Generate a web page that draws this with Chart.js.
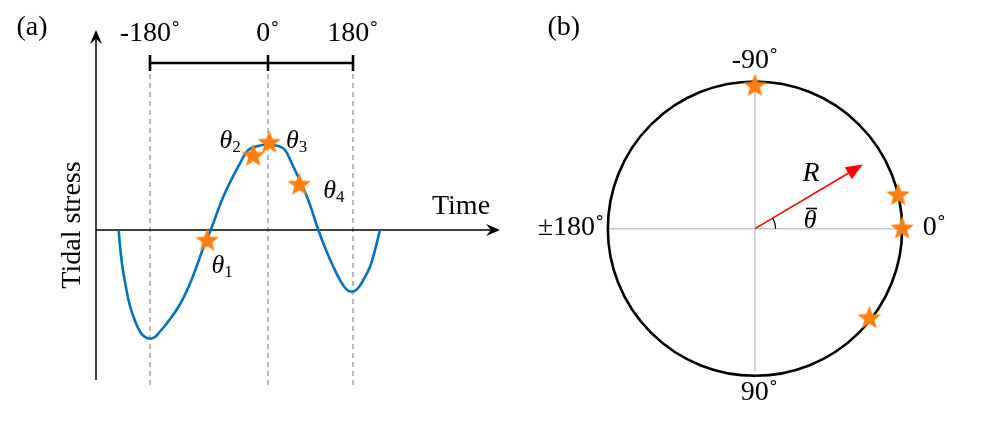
<!DOCTYPE html>
<html>
<head>
<meta charset="utf-8">
<script src="https://cdn.jsdelivr.net/npm/chart.js@4.4.1/dist/chart.umd.min.js"></script>
<style>
  html,body{margin:0;padding:0;background:#fff;}
  #wrapA{position:absolute;left:0;top:0;width:520px;height:427px;}
  #wrapB{position:absolute;left:520px;top:0;width:484px;height:427px;}
</style>
</head>
<body>
<div id="wrapA"><canvas id="chartA" width="520" height="427"></canvas></div>
<div id="wrapB"><canvas id="chartB" width="484" height="427"></canvas></div>
<script>
// ---- Panel (a) data: tidal stress over time (arbitrary units) ----
const curveTime   = [0.568,0.60,0.658,0.743,0.85,0.993,1.118,1.23,1.35,1.47,1.575,1.783,2.075,2.325,2.518,2.70,2.868,
                     3.183,3.60,3.808,4.05,4.30,4.55,4.725,4.893,5.275,5.558,
                     5.75,5.933,6.10,6.268,6.393,6.518,6.683,6.85,6.975,7.10];
const curveStress = [0,-0.16,-0.36,-0.56,-0.76,-0.927,-1.027,-1.071,-1.087,-1.071,-1.027,-0.927,-0.76,-0.56,-0.36,-0.16,0,
                     0.333,0.667,0.80,0.84,0.855,0.84,0.80,0.667,0.333,0,
                     -0.20,-0.367,-0.50,-0.596,-0.617,-0.596,-0.50,-0.367,-0.20,0];

const eventTime   = [2.78, 3.93, 4.33, 5.08];     // theta1..theta4
const eventStress = [-0.11, 0.74, 0.87, 0.45];
const eventNames  = ["1", "2", "3", "4"];

const phaseTickTime = [1.35, 4.30, 6.425];
const phaseTickText = ["-180˚", "0˚", "180˚"];

// ---- Panel (b) data: phases on the unit circle ----
const circlePhase = [-90, -13.5, 0, 39];   // degrees, positive = downward
const meanPhase   = -31.5;
const meanLength  = 0.86;
const compassText = ["-90˚", "0˚", "90˚", "±180˚"];

// ---- Styles / layout ----
const BLUE = "#0072BD", ORANGE = "#FF7F0E", GREY = "#8c8c8c";
const SERIF = '"Liberation Serif","Times New Roman",serif';
const F_TXT = "28px " + SERIF;

// label anchors (data units of each panel)
const spotsA = {
  panel:{x:-1.6, y:2.02},
  phaseY:1.96,
  time:{x:9.125, y:0.23},
  ylabel:{x:-0.575, y:0.05},
  theta:[{x:2.89,y:-0.43},{x:3.09,y:0.825},{x:4.75,y:0.825},{x:5.68,y:0.32}]
};
const spotsB = {
  panel:{x:-1.30, y:-1.41},
  compass:[{x:0,y:-1.18},{x:1.22,y:-0.01},{x:0.03,y:1.15},{x:-1.25,y:-0.01}],
  R:{x:0.381, y:-0.388},
  thetaBar:{x:0.374, y:-0.05}
};

// ---- Utils ----
function makeStar(R, color){
  const c = document.createElement("canvas");
  const s = Math.ceil(R*2+2); c.width = s; c.height = s;
  const g = c.getContext("2d");
  const r = R*0.42;
  g.beginPath();
  for(let i=0;i<10;i++){
    const a = -Math.PI/2 + i*Math.PI/5;
    const rr = i%2 ? r : R;
    const px = s/2 + rr*Math.cos(a), py = s/2 + rr*Math.sin(a);
    i ? g.lineTo(px,py) : g.moveTo(px,py);
  }
  g.closePath(); g.fillStyle = color; g.fill();
  return c;
}
const starImg = makeStar(12.5, ORANGE);

function stealth(ctx, x, y, ang, len, half){
  const dx = Math.cos(ang), dy = Math.sin(ang);
  ctx.beginPath();
  ctx.moveTo(x, y);
  ctx.lineTo(x - len*dx - half*dy, y - len*dy + half*dx);
  ctx.lineTo(x - 0.65*len*dx, y - 0.65*len*dy);
  ctx.lineTo(x - len*dx + half*dy, y - len*dy - half*dx);
  ctx.closePath(); ctx.fill();
}
function text(ctx, str, x, y, font, align, base){
  ctx.font = font; ctx.textAlign = align || "center"; ctx.textBaseline = base || "middle";
  ctx.fillText(str, x, y);
}
function subTheta(ctx, sub, x, y){
  ctx.font = "italic 26px " + SERIF; ctx.textAlign = "left"; ctx.textBaseline = "alphabetic";
  ctx.fillText("θ", x, y);
  const w = ctx.measureText("θ").width;
  ctx.font = "17px " + SERIF;
  ctx.fillText(sub, x + w, y + 4);
}

// ---- Panel (a) plugin ----
const panelA = {
  id:"panelA",
  beforeDatasetsDraw(chart){
    const {ctx, scales:{x, y}} = chart;
    ctx.save();
    ctx.strokeStyle = GREY; ctx.lineWidth = 1.2; ctx.setLineDash([5,4]);
    for(const t of phaseTickTime){
      ctx.beginPath();
      ctx.moveTo(x.getPixelForValue(t), y.getPixelForValue(1.65));
      ctx.lineTo(x.getPixelForValue(t), y.getPixelForValue(-1.58));
      ctx.stroke();
    }
    ctx.setLineDash([]);
    // axes
    ctx.strokeStyle = "#000"; ctx.fillStyle = "#000"; ctx.lineWidth = 1.5;
    const x0 = x.getPixelForValue(0), y0 = y.getPixelForValue(0);
    const yTop = y.getPixelForValue(2.0), yBot = y.getPixelForValue(-1.5), xEnd = x.getPixelForValue(10.1);
    ctx.beginPath(); ctx.moveTo(x0, yBot); ctx.lineTo(x0, yTop + 6); ctx.stroke();
    stealth(ctx, x0, yTop, -Math.PI/2, 14, 6);
    ctx.beginPath(); ctx.moveTo(x0, y0); ctx.lineTo(xEnd - 6, y0); ctx.stroke();
    stealth(ctx, xEnd, y0, 0, 14, 6);
    // phase bracket
    ctx.lineWidth = 2.6;
    const yb = y.getPixelForValue(1.67);
    ctx.beginPath();
    ctx.moveTo(x.getPixelForValue(phaseTickTime[0]), yb);
    ctx.lineTo(x.getPixelForValue(phaseTickTime[phaseTickTime.length-1]), yb);
    ctx.stroke();
    for(const t of phaseTickTime){
      ctx.beginPath();
      ctx.moveTo(x.getPixelForValue(t), y.getPixelForValue(1.75));
      ctx.lineTo(x.getPixelForValue(t), y.getPixelForValue(1.59));
      ctx.stroke();
    }
    ctx.restore();
  },
  afterDatasetsDraw(chart){
    const {ctx, scales:{x, y}} = chart;
    ctx.save();
    ctx.fillStyle = "#000";
    text(ctx, "(a)", x.getPixelForValue(spotsA.panel.x), y.getPixelForValue(spotsA.panel.y), F_TXT);
    phaseTickTime.forEach((t,i)=> text(ctx, phaseTickText[i], x.getPixelForValue(t), y.getPixelForValue(spotsA.phaseY), F_TXT));
    text(ctx, "Time", x.getPixelForValue(spotsA.time.x), y.getPixelForValue(spotsA.time.y), F_TXT);
    ctx.save();
    ctx.translate(x.getPixelForValue(spotsA.ylabel.x), y.getPixelForValue(spotsA.ylabel.y));
    ctx.rotate(-Math.PI/2);
    text(ctx, "Tidal stress", 0, 0, F_TXT);
    ctx.restore();
    spotsA.theta.forEach((p,i)=> subTheta(ctx, eventNames[i], x.getPixelForValue(p.x), y.getPixelForValue(p.y)));
    ctx.restore();
  }
};

new Chart(document.getElementById("chartA"), {
  type:"scatter",
  data:{datasets:[
    {type:"scatter", data: eventTime.map((t,i)=>({x:t, y:eventStress[i]})),
     pointStyle: starImg, pointRadius: 12, order: 0, clip: false},
    {type:"line", data: curveTime.map((t,i)=>({x:t, y:curveStress[i]})),
     borderColor: BLUE, borderWidth: 2.6, pointRadius: 0, fill: false,
     tension: 0.4, order: 1, clip: false}
  ]},
  options:{
    responsive:false, animation:false, events:[],
    layout:{padding:{left:96, right:20, top:30, bottom:37}},
    plugins:{legend:{display:false}, tooltip:{enabled:false}},
    scales:{
      x:{type:"linear", min:0, max:10.1, display:false},
      y:{type:"linear", min:-1.6, max:2.0, display:false}
    }
  },
  plugins:[panelA]
});

// ---- Panel (b) plugin ----
const panelB = {
  id:"panelB",
  beforeDatasetsDraw(chart){
    const {ctx, scales:{x, y}} = chart;
    ctx.save();
    const cx = x.getPixelForValue(0), cy = y.getPixelForValue(0);
    const r = x.getPixelForValue(1) - cx;
    ctx.strokeStyle = "#c8c8c8"; ctx.lineWidth = 1.5;
    ctx.beginPath();
    ctx.moveTo(x.getPixelForValue(-1), cy); ctx.lineTo(x.getPixelForValue(1), cy);
    ctx.moveTo(cx, y.getPixelForValue(-1)); ctx.lineTo(cx, y.getPixelForValue(1));
    ctx.stroke();
    ctx.strokeStyle = "#000"; ctx.lineWidth = 2.6;
    ctx.beginPath(); ctx.arc(cx, cy, r, 0, Math.PI*2); ctx.stroke();
    // mean vector
    const a = meanPhase*Math.PI/180;
    const tx = x.getPixelForValue(meanLength*Math.cos(a)), ty = y.getPixelForValue(meanLength*Math.sin(a));
    const ang = Math.atan2(ty-cy, tx-cx), len = 17;
    ctx.strokeStyle = "#ff0000"; ctx.fillStyle = "#ff0000"; ctx.lineWidth = 1.6;
    ctx.beginPath(); ctx.moveTo(cx, cy); ctx.lineTo(tx - len*Math.cos(ang), ty - len*Math.sin(ang)); ctx.stroke();
    ctx.beginPath();
    ctx.moveTo(tx, ty);
    ctx.lineTo(tx - len*Math.cos(ang) + 7*Math.sin(ang), ty - len*Math.sin(ang) - 7*Math.cos(ang));
    ctx.lineTo(tx - len*Math.cos(ang) - 7*Math.sin(ang), ty - len*Math.sin(ang) + 7*Math.cos(ang));
    ctx.closePath(); ctx.fill();
    // angle arc
    ctx.strokeStyle = "#000"; ctx.lineWidth = 1.2;
    ctx.beginPath(); ctx.arc(cx, cy, x.getPixelForValue(0.14) - cx, a, 0); ctx.stroke();
    ctx.restore();
  },
  afterDatasetsDraw(chart){
    const {ctx, scales:{x, y}} = chart;
    ctx.save();
    ctx.fillStyle = "#000";
    text(ctx, "(b)", x.getPixelForValue(spotsB.panel.x), y.getPixelForValue(spotsB.panel.y), F_TXT);
    spotsB.compass.forEach((p,i)=> text(ctx, compassText[i], x.getPixelForValue(p.x), y.getPixelForValue(p.y), F_TXT));
    text(ctx, "R", x.getPixelForValue(spotsB.R.x), y.getPixelForValue(spotsB.R.y), "italic 28px " + SERIF);
    const bx = x.getPixelForValue(spotsB.thetaBar.x), by = y.getPixelForValue(spotsB.thetaBar.y);
    text(ctx, "θ", bx, by, "italic 26px " + SERIF);
    ctx.strokeStyle = "#000"; ctx.lineWidth = 1.6;
    ctx.beginPath(); ctx.moveTo(bx - 4, by - 13); ctx.lineTo(bx + 7, by - 13); ctx.stroke();
    ctx.restore();
  }
};

new Chart(document.getElementById("chartB"), {
  type:"scatter",
  data:{datasets:[
    {data: circlePhase.map(p=>({x:Math.cos(p*Math.PI/180), y:Math.sin(p*Math.PI/180)})),
     pointStyle: starImg, pointRadius: 12, clip: false}
  ]},
  options:{
    responsive:false, animation:false, events:[],
    layout:{padding:{left:29, right:43, top:29, bottom:1}},
    plugins:{legend:{display:false}, tooltip:{enabled:false}},
    scales:{
      x:{type:"linear", min:-1.4, max:1.4, display:false},
      y:{type:"linear", min:-1.4, max:1.3, reverse:true, display:false}
    }
  },
  plugins:[panelB]
});
</script>
</body>
</html>
